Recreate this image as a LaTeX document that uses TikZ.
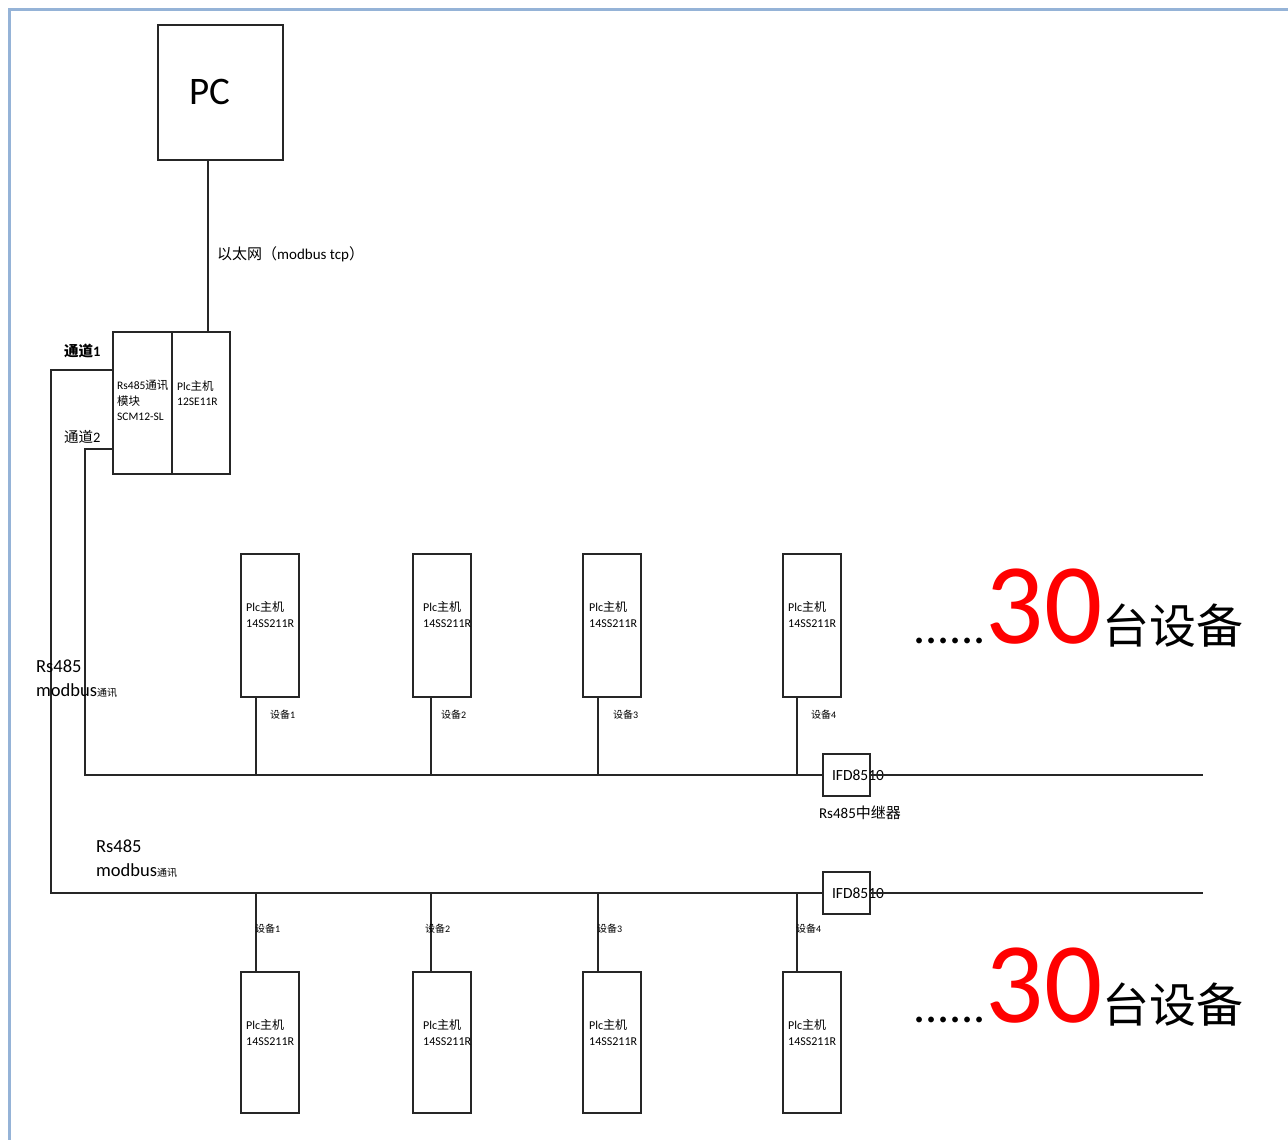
\documentclass[tikz,border=0pt]{standalone}
\usepackage{fontspec}
\setmainfont{Carlito}
\newfontfamily\cjk{Noto Sans CJK SC}
\usepackage{tikz}
\usetikzlibrary{positioning}
\definecolor{frame}{HTML}{95B3D7}
\definecolor{wireg}{HTML}{262626}
\tikzset{
  unit/.style ={draw=wireg, line width=1.3pt, minimum width=58, minimum height=143, inner sep=0pt},
  wire/.style ={draw=wireg, line width=1.3pt},
  tag/.style  ={inner sep=0pt, anchor=west, align=left, font=\fontsize{12}{16}\selectfont},
  idtag/.style={inner sep=0pt, anchor=west, font=\fontsize{10}{10}\selectfont},
  lbl/.style  ={inner sep=0pt, anchor=west, align=left},
  frameline/.style={draw=frame, line width=3pt},
}

\begin{document}
\begin{tikzpicture}[x=1pt,y=-1pt]
\useasboundingbox (0,0) rectangle (1288,1140);
\draw[frameline] (9,1140) -- (9,10) -- (1288,10);

% PC and main plc
\node[unit, minimum width=125, minimum height=135] (pc) at (220.5,92.5) {};
\node[font=\fontsize{39}{39}\selectfont] (pctxt) at (210,92) {PC};
\node[unit, minimum width=59, minimum height=142] (mod) at (142.5,403) {};
\node[unit, minimum width=58, minimum height=142] (plc) at (201,403) {};
\node[tag, font=\fontsize{11.5}{15.5}\selectfont] (modtxt) at (117,400.5) {Rs485{\cjk 通讯}\\{\cjk 模块}\\SCM12-SL};
\node[tag, font=\fontsize{11.5}{15.5}\selectfont] (plctxt) at (177,393) {Plc{\cjk 主机}\\12SE11R};
\draw[wire] ([xshift=-12.5]pc.south) -- ([xshift=7]plc.north);
\node[lbl, font=\fontsize{15}{15}\selectfont] (ethlbl) at (217,254) {{\cjk 以太网（}modbus tcp{\cjk ）}};
\node[lbl, font=\fontsize{14.5}{14.5}\selectfont] (ch1lbl) at (64,351) {{\cjk\bfseries 通道}\textbf{1}};
\node[lbl, font=\fontsize{14.5}{14.5}\selectfont] (ch2lbl) at (64,437) {{\cjk 通道}2};

% repeaters
\node[unit, minimum width=47, minimum height=42] (rep1) at (846.5,775) {};
\node[unit, minimum width=47, minimum height=42] (rep2) at (846.5,893) {};
\node[font=\fontsize{15.5}{15.5}\selectfont] (rep1txt) at (858,775) {IFD8510};
\node[font=\fontsize{15.5}{15.5}\selectfont] (rep2txt) at (858,893) {IFD8510};
\node[font=\fontsize{15}{15}\selectfont] (replbl) at (860,813) {Rs485{\cjk 中继器}};

% buses
\coordinate (ch1) at (51,893);
\coordinate (ch2) at (85,775);
\coordinate (end1) at (1203,775);
\coordinate (end2) at (1203,893);
\draw[wire] ([yshift=33]mod.west) -| (ch1) -- (rep2.west);
\draw[wire] ([yshift=-46]mod.west) -| (ch2) -- (rep1.west);
\draw[wire] (rep1.east) -- (end1);
\draw[wire] (rep2.east) -- (end2);
\node[lbl, font=\fontsize{18.5}{24}\selectfont] (bus1lbl) at (36,679) {Rs485\\modbus{\cjk\fontsize{10}{10}\selectfont 通讯}};
\node[lbl, font=\fontsize{18.5}{24}\selectfont] (bus2lbl) at (96,858.5) {Rs485\\modbus{\cjk\fontsize{10}{10}\selectfont 通讯}};

% devices
\foreach \bx/\tx/\cx/\ux/\lx/\n in {241/246/256/270/255/1, 413/423/431/441/425/2, 583/589/598/613/597/3, 783/788/797/811/796/4}{
  \node[unit] (top\n) at (\bx+29,625.5) {};
  \node[tag] (toptxt\n) at (\tx,614) {Plc{\cjk 主机}\\14SS211R};
  \coordinate (tap\n) at (\cx,775);
  \draw[wire] (tap\n) -- (tap\n |- top\n.south);
  \node[idtag] (topid\n) at (\ux,715) {{\cjk 设备}\n};
  \node[unit, minimum height=141] (bot\n) at (\bx+29,1042.5) {};
  \node[tag] (bottxt\n) at (\tx,1032) {Plc{\cjk 主机}\\14SS211R};
  \coordinate (drop\n) at (\cx,893);
  \draw[wire] (drop\n) -- (drop\n |- bot\n.north);
  \node[idtag] (botid\n) at (\lx,929) {{\cjk 设备}\n};
}

% device count
\node[inner sep=0pt, anchor=base west] (more1) at (913,643) {\fontsize{48}{48}\selectfont......{\color{red}\fontsize{115}{115}\selectfont 30}{\cjk\fontsize{47}{47}\selectfont 台设备}};
\node[inner sep=0pt, anchor=base west] (more2) at (913,1022) {\fontsize{48}{48}\selectfont......{\color{red}\fontsize{115}{115}\selectfont 30}{\cjk\fontsize{47}{47}\selectfont 台设备}};

\end{tikzpicture}
\end{document}
